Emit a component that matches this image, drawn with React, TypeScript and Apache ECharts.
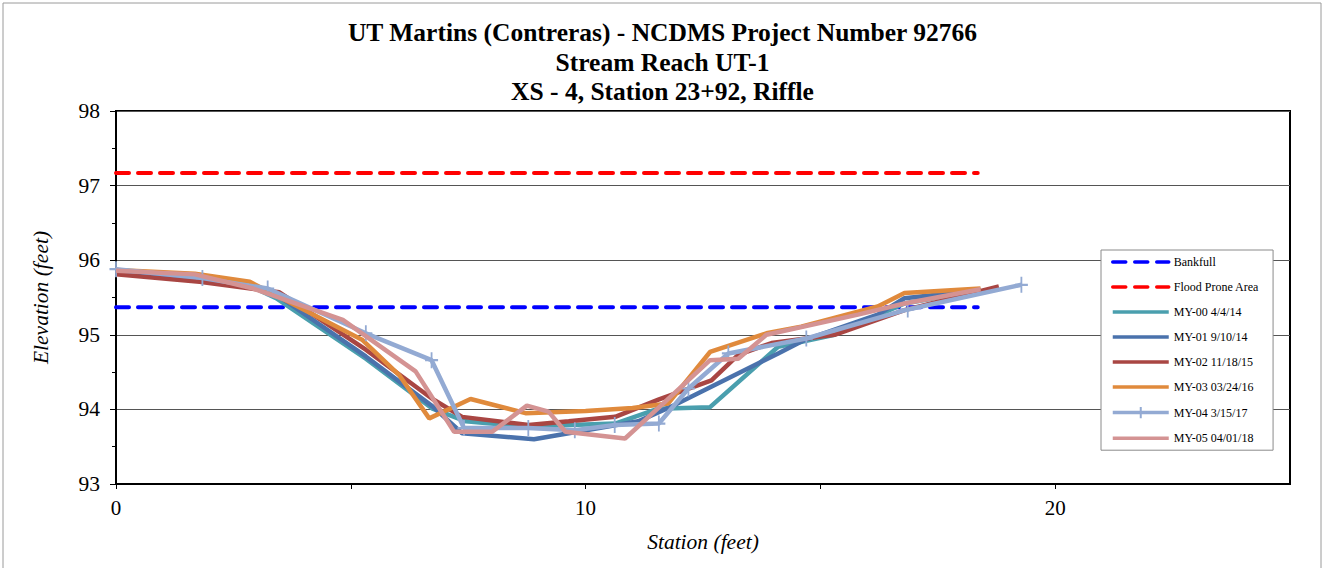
import React, { useEffect, useRef } from "react";
import * as echarts from "echarts";

const titleLines = [
  "UT Martins (Contreras) - NCDMS Project Number 92766",
  "Stream Reach UT-1",
  "XS - 4, Station 23+92, Riffle",
];

const bankfullElev = 95.37;
const floodProneElev = 97.17;
const refLineStations = [0, 18.35];

const my00: [number, number][] = [
  [0, 95.87], [1.8, 95.77], [2.91, 95.64], [3.41, 95.49], [5.32, 94.68], [6.74, 94.01],
  [7.45, 93.84], [8.72, 93.77], [10.63, 93.81], [11.55, 94.01], [12.65, 94.03],
  [14.1, 94.84], [15.3, 95.0], [16.79, 95.42], [18.41, 95.6],
];
const my01: [number, number][] = [
  [0, 95.86], [1.8, 95.76], [2.91, 95.64], [3.48, 95.51], [5.32, 94.71], [6.74, 94.04],
  [7.37, 93.68], [8.9, 93.6], [9.64, 93.68], [11.12, 93.84], [11.83, 94.04],
  [14.1, 94.75], [14.66, 94.93], [16.22, 95.27], [16.79, 95.49], [18.41, 95.6],
];
const my02: [number, number][] = [
  [0, 95.81], [1.78, 95.71], [3.48, 95.57], [5.32, 94.8], [6.74, 94.14], [7.37, 93.9],
  [8.79, 93.79], [9.64, 93.84], [10.63, 93.9], [11.55, 94.13], [12.68, 94.39],
  [13.25, 94.73], [13.96, 94.89], [15.3, 95.0], [16.79, 95.33], [18.8, 95.65],
];
const my03: [number, number][] = [
  [0, 95.87], [1.68, 95.82], [2.85, 95.71], [5.25, 94.93], [6.03, 94.46], [6.67, 93.88],
  [7.55, 94.14], [8.72, 93.95], [10.0, 93.98], [11.0, 94.02], [11.76, 94.08],
  [12.65, 94.77], [13.85, 95.02], [14.59, 95.11], [16.22, 95.38], [16.79, 95.56], [18.41, 95.62],
];
const my04: [number, number][] = [
  [0, 95.88], [1.84, 95.76], [3.23, 95.62], [5.32, 95.02], [6.72, 94.66], [7.41, 93.75],
  [8.78, 93.75], [9.77, 93.72], [10.62, 93.79], [11.56, 93.81], [12.19, 94.28],
  [13.04, 94.75], [14.7, 94.95], [16.86, 95.34], [19.28, 95.67],
];
const my05: [number, number][] = [
  [0, 95.86], [1.68, 95.81], [2.92, 95.62], [4.83, 95.2], [6.38, 94.51], [7.2, 93.7],
  [8.01, 93.7], [8.75, 94.05], [9.21, 93.97], [9.57, 93.7], [10.84, 93.61], [11.69, 94.1],
  [12.65, 94.66], [13.25, 94.68], [13.85, 95.0], [15.8, 95.27], [16.79, 95.42], [18.41, 95.61],
];

const surveyNames = [
  "MY-00 4/4/14",
  "MY-01 9/10/14",
  "MY-02 11/18/15",
  "MY-03 03/24/16",
  "MY-04 3/15/17",
  "MY-05 04/01/18",
];
const surveyData = [my00, my01, my02, my03, my04, my05];
const surveyColors = ["#4A9FAE", "#4A72AC", "#A94643", "#E08A3C", "#93AAD3", "#D49393"];
const markerSeriesIndex = 4;

const serif = "'Liberation Serif', 'Times New Roman', serif";

export default function App() {
  const ref = useRef<HTMLDivElement>(null);
  useEffect(() => {
    if (!ref.current) return;
    const chart = echarts.init(ref.current, undefined, { renderer: "svg" });
    const refSeries = [
      { name: "Bankfull", elev: bankfullElev, color: "#0000FF" },
      { name: "Flood Prone Area", elev: floodProneElev, color: "#FF0000" },
    ].map((r) => ({
      name: r.name,
      type: "line",
      symbol: "none",
      data: refLineStations.map((s) => [s, r.elev]),
      lineStyle: { color: r.color, width: 4, type: [13, 9], cap: "round" },
      itemStyle: { color: r.color },
      z: 2,
    }));
    const surveySeries = surveyNames.map((name, i) => {
      const isMarker = i === markerSeriesIndex;
      return {
        name,
        type: "line",
        data: surveyData[i],
        symbol: isMarker ? "path://M5,0L5,10M0,5L10,5" : "none",
        symbolSize: isMarker ? [13, 16] : 0,
        showSymbol: isMarker,
        itemStyle: isMarker
          ? { color: "rgba(0,0,0,0)", borderColor: surveyColors[i], borderWidth: 2 }
          : { color: surveyColors[i] },
        lineStyle: { color: surveyColors[i], width: 4.5 },
        z: 3 + i,
      };
    });
    const legendNames = ["Bankfull", "Flood Prone Area", ...surveyNames];
    chart.setOption({
      animation: false,
      backgroundColor: "#ffffff",
      title: {
        text: titleLines.join("\n"),
        left: "center",
        top: 13,
        textStyle: {
          fontFamily: serif,
          fontWeight: "bold",
          fontSize: 25.5,
          lineHeight: 29.5,
          color: "#000",
        },
      },
      graphic: [
        {
          type: "rect",
          shape: { x: 3, y: 3, width: 1318, height: 580 },
          style: { fill: "none", stroke: "#9a9a9a", lineWidth: 1 },
          silent: true,
        },
      ],
      grid: {
        left: 116,
        right: 35,
        top: 111,
        bottom: 84,
        show: true,
        borderColor: "#000",
        borderWidth: 2,
        backgroundColor: "transparent",
      },
      legend: {
        orient: "vertical",
        left: 1101,
        top: 250,
        itemWidth: 56,
        itemHeight: 14,
        itemGap: 13,
        padding: [6, 14, 6, 10],
        backgroundColor: "#fff",
        borderColor: "#8a8a8a",
        borderWidth: 1,
        lineStyle: { width: 3.5 },
        textStyle: { fontFamily: serif, fontSize: 12, color: "#000" },
        data: legendNames.map((n) =>
          n === surveyNames[markerSeriesIndex]
            ? { name: n }
            : { name: n, itemStyle: { opacity: 0 } }
        ),
      },
      xAxis: {
        type: "value",
        min: 0,
        max: 25,
        interval: 5,
        name: "Station (feet)",
        nameLocation: "middle",
        nameGap: 47,
        nameTextStyle: { fontFamily: serif, fontStyle: "italic", fontSize: 21.5, color: "#000" },
        axisLine: { lineStyle: { color: "#000", width: 2 } },
        axisTick: { show: true, length: 5, lineStyle: { color: "#000" } },
        axisLabel: {
          fontFamily: serif,
          fontSize: 21,
          color: "#000",
          margin: 13,
          showMaxLabel: false,
          formatter: (v: number) => (v % 10 === 0 ? String(v) : ""),
        },
        splitLine: { show: false },
      },
      yAxis: {
        type: "value",
        min: 93,
        max: 98,
        interval: 1,
        name: "Elevation (feet)",
        nameLocation: "middle",
        nameGap: 64,
        nameTextStyle: { fontFamily: serif, fontStyle: "italic", fontSize: 21.5, color: "#000" },
        axisLine: { show: true, lineStyle: { color: "#000", width: 2 } },
        axisTick: { show: true, length: 6, lineStyle: { color: "#000" } },
        minorTick: { show: true, splitNumber: 2, length: 4, lineStyle: { color: "#000" } },
        axisLabel: { fontFamily: serif, fontSize: 21.5, color: "#000", margin: 16 },
        splitLine: { show: true, lineStyle: { color: "#555", width: 1 } },
      },
      series: [...refSeries, ...surveySeries],
    });
    return () => chart.dispose();
  }, []);
  return (
    <div
      ref={ref}
      style={{ position: "fixed", left: 0, top: 0, width: 1325, height: 568, background: "#fff" }}
    />
  );
}
